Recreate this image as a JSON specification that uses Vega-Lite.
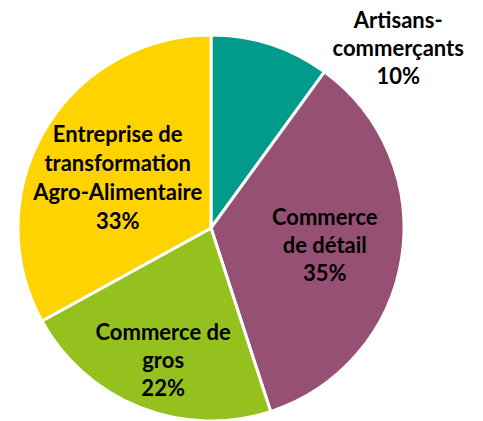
{
  "$schema": "https://vega.github.io/schema/vega-lite/v6.json",
  "width": 422,
  "height": 456,
  "autosize": "none",
  "padding": {"left": 0, "top": 0, "right": 61, "bottom": 0},
  "background": "white",
  "config": {"view": {"stroke": null}},
  "data": {
    "values": [
      {"categorie": "Artisans-commerçants", "part": 10, "ordre": 1, "etiquette": "Artisans-\ncommerçants\n10%"},
      {"categorie": "Commerce de détail", "part": 35, "ordre": 2, "etiquette": "Commerce\nde détail\n35%"},
      {"categorie": "Commerce de gros", "part": 22, "ordre": 3, "etiquette": "Commerce de\ngros\n22%"},
      {"categorie": "Entreprise de transformation Agro-Alimentaire", "part": 33, "ordre": 4, "etiquette": "Entreprise de\ntransformation\nAgro-Alimentaire\n33%"}
    ]
  },
  "transform": [
    {"stack": "part", "groupby": [], "sort": [{"field": "ordre", "order": "ascending"}], "as": ["debut", "fin"]}
  ],
  "encoding": {
    "theta": {"field": "debut", "type": "quantitative", "scale": {"domain": [0, 100]}},
    "theta2": {"field": "fin"}
  },
  "layer": [
    {
      "mark": {"type": "arc", "outerRadius": 193, "stroke": "white", "strokeWidth": 3},
      "encoding": {
        "color": {
          "field": "categorie",
          "type": "nominal",
          "legend": null,
          "scale": {
            "domain": ["Artisans-commerçants", "Commerce de détail", "Commerce de gros", "Entreprise de transformation Agro-Alimentaire"],
            "range": ["#009B8A", "#955073", "#95C11F", "#FFD300"]
          }
        }
      }
    },
    {
      "transform": [{"filter": "datum.ordre == 1"}],
      "mark": {"type": "text", "radius": 259, "thetaOffset": 0.808, "dy": -28, "font": "Lato", "fontWeight": "bold", "fontSize": 22, "lineBreak": "\n", "lineHeight": 28, "align": "center", "baseline": "middle", "color": "black"},
      "encoding": {"text": {"field": "etiquette", "type": "nominal"}}
    },
    {
      "transform": [{"filter": "datum.ordre == 2"}],
      "mark": {"type": "text", "radius": 115, "thetaOffset": 1.091, "dy": -27, "font": "Lato", "fontWeight": "bold", "fontSize": 22, "lineBreak": "\n", "lineHeight": 28, "align": "center", "baseline": "middle", "color": "black"},
      "encoding": {"text": {"field": "etiquette", "type": "nominal"}}
    },
    {
      "transform": [{"filter": "datum.ordre == 3"}],
      "mark": {"type": "text", "radius": 140, "thetaOffset": 0.663, "dy": -27, "font": "Lato", "fontWeight": "bold", "fontSize": 22, "lineBreak": "\n", "lineHeight": 28, "align": "center", "baseline": "middle", "color": "black"},
      "encoding": {"text": {"field": "etiquette", "type": "nominal"}}
    },
    {
      "transform": [{"filter": "datum.ordre == 4"}],
      "mark": {"type": "text", "radius": 106, "thetaOffset": 0.997, "dy": -43, "font": "Lato", "fontWeight": "bold", "fontSize": 22, "lineBreak": "\n", "lineHeight": 29, "align": "center", "baseline": "middle", "color": "black"},
      "encoding": {"text": {"field": "etiquette", "type": "nominal"}}
    }
  ]
}
